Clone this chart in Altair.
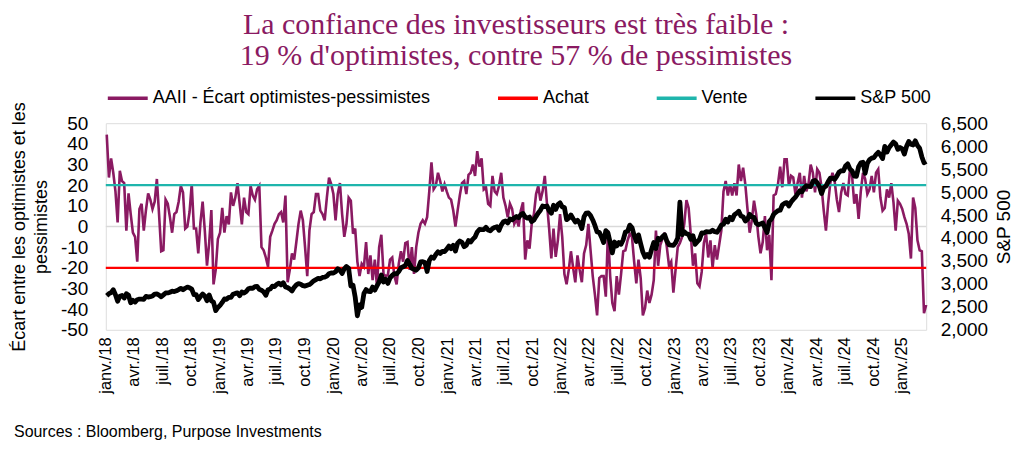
import altair as alt
import pandas as pd

# ---------------- texts ----------------
chart_title = ["La confiance des investisseurs est très faible :",
               "19 % d'optimistes, contre 57 % de pessimistes"]
source_note = "Sources : Bloomberg, Purpose Investments"
left_axis_title = ["Écart entre les optimistes et les", "pessimistes"]
right_axis_title = "S&P 500"

series_names = ["AAII - Écart optimistes-pessimistes", "Achat", "Vente", "S&P 500"]
series_colors = ["#8A1A62", "#FF0000", "#1FB5AC", "#000000"]

achat_level = -20
vente_level = 20
zero_level = 0

first_week = "2018-01-04"   # weekly observations (Thursdays)

month_labels = ["janv.", "févr.", "mars", "avr.", "mai", "juin",
                "juil.", "août", "sept.", "oct.", "nov.", "déc."]
tick_years = [2018, 2019, 2020, 2021, 2022, 2023, 2024, 2025]
tick_months = [1, 4, 7, 10]
last_tick = (2025, 1)

left_ticks = [-50, -40, -30, -20, -10, 0, 10, 20, 30, 40, 50]
right_ticks = [2000, 2500, 3000, 3500, 4000, 4500, 5000, 5500, 6000, 6500]

# ---------------- AAII bull-bear spread (weekly) ----------------
aaii_jan18_jun19 = [
    44.5, 23.7, 33, 26, 17, 2, 27, 22, 21, -2,
    16, 6, -3, -5, -17, 8.5, 11, -2, 8, 16,
    13, 8.5, 12, 23, 6, -12, -11.5, 13, 11, 4.5,
    -3, 6, 7, 12, 19.7, 16.5, -1, 0, 7, 20.5,
    -1, -1, -13, 2, 12, -2, -19, -8, 8, -28,
    -21, -6, -3, 9, -3, 5, 1, 16.5, 10, 14,
    21, 11, 1, 14, 7, 6, 19.7, 15, 13, 18,
    19.7, -10, -11.5, -15, -19.5, -5]
aaii_jun19_nov20 = [
    -2, 1.3, 3, 6, 7, 2, 15, -27, -21, -13,
    -16, -7.5, 1.3, 7.7, 3, -10, -24, -2, 6, 7,
    15.7, 15.7, 7.7, 6, 3, 14, 23.7, 20.5, 15.7, 3,
    15.7, 21, 6, -5, 1.3, 14, 12.5, -3.5, -1, -17,
    -24, -18, -19.5, -7.5, -23, -14, -26, -16, -29, -10,
    -4, -23, -24, -23.5, -16, -15, -24, -28, -18, -12,
    -17, -8, -7.5, -21, -10, -23, -10, -3, 1.3, 3,
    1.3, 4.5, 17, 31]
aaii_nov20_may22 = [
    18, 19.7, 26, 22, 17, 20.5, 17, 14, 13, 7.7,
    0, 7.7, 15, 21, 22, 15.7, 25, 26, 30, 24.5,
    36.5, 29, 33, 18, 19, 11, 10, 24.5, 17, 15.7,
    19.7, 26, 14, 10, 4.5, 11, 8.5, 1.3, 3.7, 0,
    7.7, 11.7, -16, -6.7, -10.7, 1.3, 6, 15.7, 19.7, 12.5,
    17, 24.5, 11, -1, -15.5, -1, -14.7, -6.7, 6, -5,
    -23, -28, -21, -12, -20, -27, -14, -21, -27, -13,
    -9, 1.3, -11.5, -24, -33, -43]
aaii_may22_oct23 = [
    -25, -24, -24, -34, -2, -24, -37, -41, -24, -33,
    -23, -12, -11.5, -6.7, -3.5, -5, -17, -27.5, -16, -25,
    -43, -39.5, -31, -37, -33, -26, -2, -19, -9, -6,
    -3, -10, -19, -17, -32, -21, -10, -8, -5, 1.3,
    12.8, 9, -4, -19, -13, -27.5, -29, -22, -8, -3.5,
    -15, -6.7, -20, -9, -16, -9, -2, 17, 22, 15,
    20.5, 15, 21, 15, 30, 22, 28.5, 20.5, 8.5, -3,
    3, 12.5, 6, -5, -13, -7.5]
aaii_oct23_mar25 = [
    5, -11.5, -4, -26, 15, 15.7, 20.5, 29, 19, 32.5,
    32.5, 19.7, 24.5, 23.7, 15.7, 21, 26, 14, 24.5, 17,
    20.5, 30, 26, 16.5, 27.7, 26, 19, 7.7, -2, 11,
    21, 26, 22, 13, 7, 16.5, 21, 15.7, 15, 27,
    24.5, 11, 15.7, 3.7, 17, 26, 23, 15.7, 18, 24.5,
    16.5, 26, 27.7, 14, 7.7, 9, 18, 14, 21, 11.7,
    -2, 12.5, 11, 8.5, 4.5, 1.3, -3.5, -15.5, 14, 9,
    -6.7, -11.5, -12, -42, -38]

# ---------------- S&P 500 (weekly) ----------------
sp500_2018 = [
    2743, 2786, 2810, 2873, 2762, 2620, 2732, 2747, 2691, 2786,
    2752, 2588, 2641, 2604, 2656, 2670, 2670, 2663, 2728, 2712,
    2721, 2735, 2779, 2780, 2755, 2718, 2760, 2801, 2802, 2819,
    2840, 2833, 2850, 2875, 2902, 2872, 2905, 2930, 2914, 2886,
    2767, 2768, 2659, 2723, 2781, 2736, 2633, 2760, 2633, 2600,
    2417, 2486]
sp500_2019 = [
    2532, 2596, 2671, 2665, 2707, 2708, 2776, 2793, 2804, 2743,
    2822, 2801, 2834, 2893, 2907, 2905, 2940, 2946, 2881, 2860,
    2826, 2752, 2873, 2887, 2950, 2942, 2990, 3014, 2977, 3026,
    2932, 2919, 2889, 2847, 2926, 2979, 3007, 2992, 2962, 2952,
    2970, 2986, 3023, 3067, 3093, 3120, 3110, 3141, 3146, 3169,
    3221, 3240]
sp500_2020 = [
    3235, 3265, 3330, 3295, 3226, 3328, 3380, 3338, 2954, 2972,
    2711, 2305, 2541, 2489, 2790, 2875, 2837, 2831, 2930, 2864,
    2955, 3044, 3194, 3041, 3098, 3009, 3130, 3185, 3225, 3216,
    3271, 3351, 3373, 3397, 3508, 3427, 3341, 3319, 3298, 3348,
    3477, 3484, 3465, 3270, 3509, 3585, 3558, 3638, 3699, 3663,
    3709, 3703, 3756]
sp500_2021 = [
    3825, 3768, 3841, 3714, 3887, 3934, 3907, 3811, 3842, 3943,
    3913, 3975, 4020, 4129, 4185, 4180, 4181, 4233, 4174, 4156,
    4204, 4230, 4247, 4166, 4281, 4352, 4370, 4327, 4412, 4395,
    4437, 4468, 4442, 4509, 4535, 4459, 4433, 4455, 4357, 4391,
    4471, 4545, 4605, 4697, 4683, 4698, 4595, 4538, 4712, 4621,
    4726, 4766]
sp500_2022 = [
    4677, 4663, 4398, 4432, 4501, 4419, 4349, 4385, 4329, 4204,
    4463, 4543, 4546, 4488, 4392, 4272, 4132, 4124, 4023, 3901,
    4158, 4109, 3901, 3675, 3912, 3825, 3899, 3863, 3962, 4131,
    4145, 4280, 4228, 4058, 3924, 4068, 3873, 3693, 3586, 3640,
    3583, 3752, 3901, 3771, 3993, 3965, 4026, 4072, 3934, 3852,
    3845, 3840]
sp500_2023 = [
    3895, 3999, 4780, 4071, 4136, 4091, 4079, 3970, 4046, 3862,
    3917, 3971, 4109, 4105, 4138, 4133, 4135, 4169, 4136, 4124,
    4192, 4282, 4299, 4410, 4348, 4450, 4399, 4505, 4536, 4582,
    4478, 4464, 4370, 4406, 4515, 4457, 4450, 4320, 4288, 4308,
    4328, 4224, 4117, 4358, 4415, 4514, 4559, 4595, 4604, 4719,
    4754, 4770]
sp500_2024 = [
    4697, 4784, 4840, 4891, 4959, 5027, 5006, 5089, 5137, 5124,
    5117, 5234, 5254, 5204, 5123, 4967, 5100, 5128, 5223, 5303,
    5305, 5278, 5347, 5431, 5464, 5460, 5567, 5615, 5505, 5459,
    5347, 5344, 5554, 5635, 5648, 5408, 5626, 5703, 5738, 5751,
    5815, 5865, 5808, 5729, 5996, 5870, 5969, 6032, 6090, 6051,
    5931, 5971]
sp500_2025 = [5942, 5827, 5997, 6101, 6041, 6026, 6115, 6013, 5955, 5770, 5639, 5668]

# ---------------- tables ----------------
aaii = aaii_jan18_jun19 + aaii_jun19_nov20 + aaii_nov20_may22 + aaii_may22_oct23 + aaii_oct23_mar25
sp500 = sp500_2018 + sp500_2019 + sp500_2020 + sp500_2021 + sp500_2022 + sp500_2023 + sp500_2024 + sp500_2025

df_aaii = pd.DataFrame({
    "date": pd.date_range(first_week, periods=len(aaii), freq="7D"),
    "value": aaii, "series": series_names[0]})
df_sp = pd.DataFrame({
    "date": pd.date_range(first_week, periods=len(sp500), freq="7D"),
    "value": sp500, "series": series_names[3]})
df_rules = pd.DataFrame({"value": [achat_level, vente_level],
                         "series": [series_names[1], series_names[2]]})
df_zero = pd.DataFrame({"value": [zero_level]})
df_note = pd.DataFrame({"t": [source_note]})

end_date = df_aaii["date"].iloc[-1]
x_domain = [alt.DateTime(year=2018, month=1, date=1),
            alt.DateTime(year=end_date.year, month=end_date.month, date=end_date.day)]
tick_values = [alt.DateTime(year=y, month=m, date=1)
               for y in tick_years for m in tick_months if (y, m) <= last_tick]

month_js = "[" + ",".join("'%s'" % m for m in month_labels) + "]"
x_label_expr = month_js + "[month(datum.value)] + '/' + timeFormat(datum.value, '%y')"

FONT = "Liberation Sans"

x_axis = alt.Axis(values=tick_values, labelExpr=x_label_expr, labelAngle=270,
                  labelAlign="right", labelBaseline="middle", labelFont=FONT,
                  labelFontSize=16.5, labelColor="#000000", labelPadding=7,
                  ticks=False, tickSize=0, domain=False, grid=False, title=None,
                  labelOverlap=False, labelBound=False, labelFlush=False)
x_enc = alt.X("date:T", scale=alt.Scale(domain=x_domain), axis=x_axis)

left_scale = alt.Scale(domain=[-50, 50], nice=False, zero=False)
left_axis = alt.Axis(values=left_ticks, labelExpr="datum.value + ''", orient="left",
                     labelFont=FONT, labelFontSize=19, labelColor="#000000",
                     labelPadding=18, ticks=False, tickSize=0, domain=False, grid=False,
                     title=left_axis_title, titleFont=FONT, titleFontSize=18,
                     titleFontWeight="normal", titleColor="#000000", titlePadding=10,
                     titleLineHeight=22)
right_axis = alt.Axis(values=right_ticks, format=",d", orient="right",
                      labelFont=FONT, labelFontSize=19, labelColor="#000000",
                      labelPadding=14, ticks=False, tickSize=0, domain=False, grid=False,
                      title=right_axis_title, titleFont=FONT, titleFontSize=19,
                      titleFontWeight="normal", titleColor="#000000", titlePadding=7,
                      titleAngle=270, titleBaseline="top")

legend = alt.Legend(orient="top", direction="horizontal", title=None,
                    symbolType="stroke", symbolSize=1600, symbolStrokeWidth=3.5,
                    labelFont=FONT, labelFontSize=18, labelColor="#000000",
                    labelLimit=500, columnPadding=60, labelOffset=3, offset=16)
color_enc = alt.Color("series:N", scale=alt.Scale(domain=series_names, range=series_colors),
                      legend=legend)

zero_line = alt.Chart(df_zero).mark_rule(color="#D9D9D9", strokeWidth=1.5).encode(
    y=alt.Y("value:Q", scale=left_scale, axis=left_axis))
aaii_line = alt.Chart(df_aaii).mark_line(strokeWidth=2.6).encode(
    x=x_enc, y=alt.Y("value:Q", scale=left_scale, axis=left_axis),
    color=color_enc)
rules = alt.Chart(df_rules).mark_rule(strokeWidth=2.2).encode(
    y=alt.Y("value:Q", scale=left_scale, axis=left_axis),
    color=color_enc)
note = alt.Chart(df_note).mark_text(align="left", baseline="middle", font=FONT,
                                    fontSize=16, color="#000000").encode(
    x=alt.value(-92), y=alt.value(309), text="t:N")

left_group = alt.layer(zero_line, aaii_line, rules, note)

sp_line = alt.Chart(df_sp).mark_line(strokeWidth=4.8, strokeJoin="round").encode(
    x=x_enc,
    y=alt.Y("value:Q", scale=alt.Scale(domain=[2000, 6500], nice=False, zero=False),
            axis=right_axis),
    color=color_enc)

chart = alt.layer(left_group, sp_line).resolve_scale(y="independent").properties(
    width=822, height=207,
    title=alt.Title(text=chart_title, font="Liberation Serif", fontSize=30,
                    fontWeight="normal", color="#8A1A62", anchor="middle",
                    lineHeight=31, offset=5),
    padding={"left": 2, "right": 2, "top": 2, "bottom": 2},
).configure_view(stroke=None).configure(background="#FFFFFF")

chart.save("out.html", embed_options={"renderer": "svg", "actions": False})
